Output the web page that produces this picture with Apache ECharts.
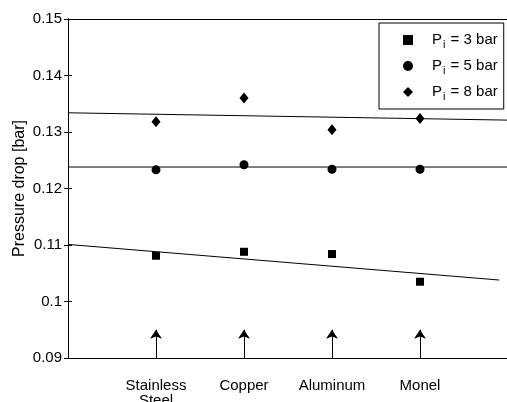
<!DOCTYPE html>
<html>
<head>
<meta charset="utf-8">
<script src="https://cdn.jsdelivr.net/npm/echarts@6/dist/echarts.min.js"></script>
<style>
  html, body { margin: 0; padding: 0; background: #fff; }
  #chart { width: 507px; height: 402px; }
</style>
</head>
<body>
<div id="chart"></div>
<script>
// materials sit at x = 1..4 on a 0..5 value axis
const materials = ['Stainless\nSteel', 'Copper', 'Aluminum', 'Monel']
const materialPos = [1, 2, 3, 4]

// measured pressure drop [bar]
const p3bar = [0.1081, 0.1088, 0.1084, 0.1035]
const p5bar = [0.1233, 0.1242, 0.1234, 0.1234]
const p8bar = [0.1318, 0.1360, 0.1304, 0.1324]

// fitted trend lines, end points
const fitX3 = [0, 4.9]
const fit3 = [0.1101, 0.1038]
const fitX5 = [0, 5]
const fit5 = [0.1238, 0.1238]
const fitX8 = [0, 5]
const fit8 = [0.1334, 0.1321]

// arrows under each material
const arrowBase = 0.09
const arrowTip = 0.095

const yTicks = [0.09, 0.10, 0.11, 0.12, 0.13, 0.14, 0.15]

const FONT = '"Liberation Sans", Arial, Helvetica, sans-serif'

function pairs(xs, ys) {
  return xs.map((x, i) => [x, ys[i]])
}

const chart = echarts.init(document.getElementById('chart'))

const scatterBase = {
  type: 'scatter',
  itemStyle: { color: '#000', opacity: 1 },
  z: 5
}

const fitLine = {
  type: 'line',
  symbol: 'none',
  silent: true,
  lineStyle: { color: '#000', width: 1 },
  z: 3
}

chart.setOption({
  animation: false,
  backgroundColor: '#fff',
  textStyle: { fontFamily: FONT },
  grid: {
    left: 68,
    top: 19,
    width: 440,
    height: 339,
    containLabel: false,
    outerBoundsMode: 'none'
  },
  legend: {
    orient: 'vertical',
    left: 379,
    top: 23,
    padding: [7, 6, 7, 24],
    itemWidth: 10,
    itemHeight: 10,
    itemGap: 6,
    borderColor: '#000',
    borderWidth: 1,
    backgroundColor: '#fff',
    data: ['3 bar', '5 bar', '8 bar'],
    formatter: name => 'P{sub|i} = ' + name,
    textStyle: {
      color: '#000',
      fontFamily: FONT,
      fontSize: 15,
      lineHeight: 20,
      padding: [0, 0, 0, 14],
      rich: {
        sub: {
          fontSize: 11,
          fontFamily: FONT,
          color: '#000',
          verticalAlign: 'bottom',
          padding: [0, 1, 0, 1]
        }
      }
    }
  },
  xAxis: [
    {
      type: 'value',
      min: 0,
      max: 5,
      interval: 1,
      splitLine: { show: false },
      axisTick: { show: false },
      axisLine: { lineStyle: { color: '#000', width: 1 } },
      axisLabel: {
        color: '#000',
        fontSize: 15,
        lineHeight: 15,
        margin: 20,
        formatter: v => {
          const i = materialPos.indexOf(v)
          return i >= 0 ? materials[i] : ''
        }
      }
    },
    {
      type: 'value',
      position: 'top',
      min: 0,
      max: 5,
      splitLine: { show: false },
      axisTick: { show: false },
      axisLabel: { show: false },
      axisLine: { show: true, lineStyle: { color: '#000', width: 1 } }
    }
  ],
  yAxis: [
    {
      type: 'value',
      min: yTicks[0],
      max: yTicks[yTicks.length - 1],
      interval: 0.01,
      name: 'Pressure drop [bar]',
      nameLocation: 'middle',
      nameGap: 40,
      nameMoveOverlap: false,
      nameTextStyle: {
        color: '#000',
        fontSize: 16
      },
      splitLine: { show: false },
      axisLine: { show: true, lineStyle: { color: '#000', width: 1 } },
      axisTick: { show: true, inside: true, length: 4, lineStyle: { color: '#000' } },
      axisLabel: {
        color: '#000',
        fontSize: 15,
        margin: 6,
        formatter: v => String(parseFloat(v.toFixed(2)))
      }
    },
    {
      type: 'value',
      position: 'right',
      min: yTicks[0],
      max: yTicks[yTicks.length - 1],
      interval: 0.01,
      splitLine: { show: false },
      axisLabel: { show: false },
      axisLine: { show: true, lineStyle: { color: '#000', width: 1 } },
      axisTick: { show: true, inside: true, length: 4, lineStyle: { color: '#000' } }
    }
  ],
  series: [
    Object.assign({}, scatterBase, {
      name: '3 bar',
      symbol: 'rect',
      symbolSize: 8,
      data: pairs(materialPos, p3bar)
    }),
    Object.assign({}, scatterBase, {
      name: '5 bar',
      symbol: 'circle',
      symbolSize: 9,
      data: pairs(materialPos, p5bar)
    }),
    Object.assign({}, scatterBase, {
      name: '8 bar',
      symbol: 'diamond',
      symbolSize: [9, 11],
      data: pairs(materialPos, p8bar)
    }),
    Object.assign({}, fitLine, { name: 'fit3', data: pairs(fitX3, fit3) }),
    Object.assign({}, fitLine, { name: 'fit5', data: pairs(fitX5, fit5) }),
    Object.assign({}, fitLine, { name: 'fit8', data: pairs(fitX8, fit8) }),
    {
      type: 'lines',
      name: 'arrows',
      coordinateSystem: 'cartesian2d',
      silent: true,
      symbol: ['none', 'arrow'],
      symbolSize: [0, 9],
      lineStyle: { color: '#000', width: 1, opacity: 1 },
      data: materialPos.map(x => ({ coords: [[x, arrowBase], [x, arrowTip]] }))
    }
  ]
})
</script>
</body>
</html>
